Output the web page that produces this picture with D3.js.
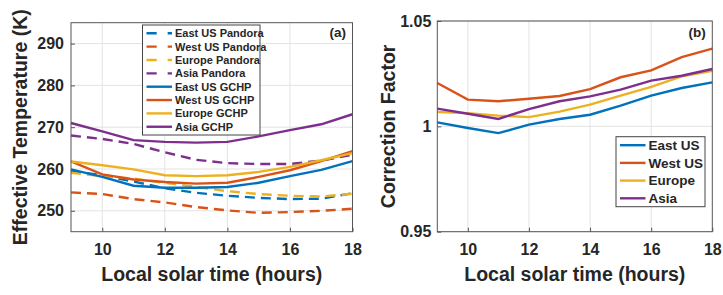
<!DOCTYPE html>
<html>
<head>
<meta charset="utf-8">
<script src="https://cdn.jsdelivr.net/npm/d3@7"></script>
<style>
  body { margin: 0; background: #fff; }
  svg text { font-family: "Liberation Sans", Arial, sans-serif; font-weight: bold; fill: #262626; }
</style>
</head>
<body>
<div id="chart"></div>
<script>
// hours of the day (x values)
const hours = [9, 10, 11, 12, 13, 14, 15, 16, 17, 18];

// panel (a): effective temperature (K)
const eastPandora = [259.5, 258.5, 257.0, 255.4, 254.3, 253.6, 253.1, 252.8, 252.9, 254.2];
const westPandora = [254.4, 254.0, 252.8, 252.0, 250.9, 250.1, 249.5, 249.7, 250.0, 250.5];
const europePandora = [259.1, 258.3, 257.7, 256.7, 255.7, 254.7, 254.0, 253.6, 253.4, 254.1];
const asiaPandora = [268.0, 267.2, 266.0, 264.0, 262.2, 261.4, 261.2, 261.2, 262.0, 263.4];
const eastGCHP = [259.9, 258.1, 256.0, 255.5, 255.5, 255.7, 256.7, 258.3, 259.8, 261.9];
const westGCHP = [261.8, 258.7, 257.5, 256.9, 256.5, 256.7, 258.1, 259.7, 261.9, 264.3];
const europeGCHP = [261.8, 260.9, 259.9, 258.5, 258.3, 258.5, 259.3, 260.5, 262.1, 263.8];
const asiaGCHP = [271.0, 269.0, 266.9, 266.5, 266.3, 266.5, 267.8, 269.3, 270.7, 273.1];

// panel (b): correction factor
const eastCF = [1.0019, 0.9992, 0.9968, 1.0008, 1.0035, 1.0055, 1.0098, 1.0146, 1.0182, 1.0209];
const westCF = [1.0206, 1.0127, 1.0119, 1.0131, 1.0144, 1.0177, 1.0233, 1.0266, 1.0329, 1.0369];
const europeCF = [1.0068, 1.0063, 1.0051, 1.0044, 1.0070, 1.0103, 1.0146, 1.0187, 1.0237, 1.0264];
const asiaCF = [1.0084, 1.0060, 1.0035, 1.0082, 1.0119, 1.0142, 1.0174, 1.0217, 1.0240, 1.0272];

const xTicks = [10, 12, 14, 16, 18];
const tempTicks = [250, 260, 270, 280, 290];
const cfTicks = [0.95, 1, 1.05];

const colors = {east: "#0072BD", west: "#D95319", europe: "#EDB120", asia: "#7E2F8E"};

const svg = d3.select("#chart").append("svg")
    .attr("width", 723)
    .attr("height", 295);

function drawPanel(cfg) {
    let g = svg.append("g");

    let x = d3.scaleLinear().domain([9, 18]).range([cfg.left, cfg.right]);
    let y = d3.scaleLinear().domain(cfg.yDomain).range([cfg.bottom, cfg.top]);

    // grid
    g.append("g").selectAll("line.gx")
        .data(xTicks.filter(t => t < 18))
        .join("line")
        .attr("x1", d => x(d)).attr("x2", d => x(d))
        .attr("y1", cfg.top).attr("y2", cfg.bottom)
        .attr("stroke", "#e3e3e3");
    g.append("g").selectAll("line.gy")
        .data(cfg.yTicks)
        .join("line")
        .attr("x1", cfg.left).attr("x2", cfg.right)
        .attr("y1", d => y(d)).attr("y2", d => y(d))
        .attr("stroke", "#e3e3e3");

    // lines
    let line = d3.line()
        .x((d, i) => x(hours[i]))
        .y(d => y(d));

    g.append("g").selectAll("path")
        .data(cfg.series)
        .join("path")
        .attr("d", d => line(d.values))
        .attr("fill", "none")
        .attr("stroke", d => d.color)
        .attr("stroke-width", 2.4)
        .attr("stroke-dasharray", d => d.dashed ? "10,6" : null);

    // axes
    let xAxis = g.append("g")
        .attr("transform", `translate(0, ${cfg.bottom})`)
        .call(d3.axisBottom(x).tickValues(xTicks).tickSizeInner(-4).tickSizeOuter(0).tickPadding(12));
    let yAxis = g.append("g")
        .attr("transform", `translate(${cfg.left}, 0)`)
        .call(d3.axisLeft(y).tickValues(cfg.yTicks).tickFormat(d3.format("")).tickSizeInner(-4).tickSizeOuter(0).tickPadding(cfg.yPad));
    [xAxis, yAxis].forEach(a => {
        a.select(".domain").remove();
        a.selectAll(".tick line").attr("stroke", "#555");
        a.selectAll(".tick text").style("font-size", "16px").attr("fill", "#262626");
    });

    // box
    g.append("rect")
        .attr("x", cfg.left).attr("y", cfg.top)
        .attr("width", cfg.right - cfg.left)
        .attr("height", cfg.bottom - cfg.top)
        .attr("fill", "none")
        .attr("stroke", "#555")
        .attr("stroke-width", 1);

    // titles
    g.append("text")
        .attr("x", (cfg.left + cfg.right) / 2)
        .attr("y", 281)
        .attr("text-anchor", "middle")
        .style("font-size", "19.5px")
        .text("Local solar time (hours)");
    g.append("text")
        .attr("transform", `translate(${cfg.yTitleX}, ${(cfg.top + cfg.bottom) / 2}) rotate(-90)`)
        .attr("text-anchor", "middle")
        .style("font-size", "19.5px")
        .text(cfg.yTitle);

    // panel tag
    g.append("text")
        .attr("x", cfg.right - 6.5)
        .attr("y", 36.7)
        .attr("text-anchor", "end")
        .style("font-size", "13.5px")
        .attr("fill", "#111")
        .text(cfg.tag);

    // legend
    let lg = cfg.legend;
    let leg = g.append("g");
    leg.append("rect")
        .attr("x", lg.x).attr("y", lg.y)
        .attr("width", lg.w).attr("height", lg.h)
        .attr("fill", "#fff")
        .attr("stroke", "#444");
    let rows = leg.selectAll("g.row")
        .data(cfg.series)
        .join("g")
        .attr("transform", (d, i) => `translate(${lg.x}, ${lg.y + lg.first + i * lg.step})`);
    rows.append("line")
        .attr("x1", 4).attr("x2", 4 + lg.sample)
        .attr("stroke", d => d.color)
        .attr("stroke-width", 2.4)
        .attr("stroke-dasharray", d => d.dashed ? `${lg.sample * 0.4},${lg.sample * 0.43}` : null);
    rows.append("text")
        .attr("x", lg.sample + 7)
        .attr("dy", "0.36em")
        .style("font-size", lg.font + "px")
        .text(d => d.name);
}

drawPanel({
    left: 71, right: 352.5, top: 22.7, bottom: 231.7,
    yDomain: [245, 295], yTicks: tempTicks, yPad: 7,
    yTitle: "Effective Temperature (K)", yTitleX: 27, tag: "(a)",
    series: [
        {name: "East US Pandora", values: eastPandora, color: colors.east, dashed: true},
        {name: "West US Pandora", values: westPandora, color: colors.west, dashed: true},
        {name: "Europe Pandora", values: europePandora, color: colors.europe, dashed: true},
        {name: "Asia Pandora", values: asiaPandora, color: colors.asia, dashed: true},
        {name: "East US GCHP", values: eastGCHP, color: colors.east, dashed: false},
        {name: "West US GCHP", values: westGCHP, color: colors.west, dashed: false},
        {name: "Europe GCHP", values: europeGCHP, color: colors.europe, dashed: false},
        {name: "Asia GCHP", values: asiaGCHP, color: colors.asia, dashed: false}
    ],
    legend: {x: 142.5, y: 25, w: 117.5, h: 110, first: 8.3, step: 13.35, sample: 25.5, font: 11}
});

drawPanel({
    left: 437.3, right: 712.3, top: 21, bottom: 231.7,
    yDomain: [0.95, 1.05], yTicks: cfTicks, yPad: 6,
    yTitle: "Correction Factor", yTitleX: 395, tag: "(b)",
    series: [
        {name: "East US", values: eastCF, color: colors.east, dashed: false},
        {name: "West US", values: westCF, color: colors.west, dashed: false},
        {name: "Europe", values: europeCF, color: colors.europe, dashed: false},
        {name: "Asia", values: asiaCF, color: colors.asia, dashed: false}
    ],
    legend: {x: 616, y: 136.7, w: 89, h: 70, first: 8.5, step: 17.7, sample: 25.5, font: 13.5}
});
</script>
</body>
</html>
